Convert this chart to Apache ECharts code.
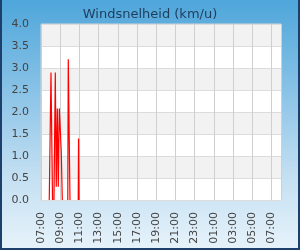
<!DOCTYPE html>
<html>
<head>
<meta charset="utf-8">
<script src="https://cdn.jsdelivr.net/npm/echarts@6/dist/echarts.min.js"></script>
<style>
  html, body { margin: 0; padding: 0; }
  #wrap {
    width: 300px; height: 250px; box-sizing: border-box;
    border-left: 2px solid #1c3f6b; border-right: 2px solid #1c3f6b; border-bottom: 2px solid #1c3f6b;
    background: linear-gradient(to bottom, #4ea6da 0%, #86c1e6 35%, #c2dff2 70%, #e6f2fa 100%);
  }
  #main { width: 296px; height: 248px; }
</style>
</head>
<body>
<div id="wrap"><div id="main"></div></div>
<script type="text/javascript">
  // uren na 07:00; null = geen meting (lijn onderbroken)
  var hours = [0.86, 1.04, 1.20, null, 1.35, 1.49, 1.59, 1.70, 1.80, 1.91, 2.11, 2.22, null, 2.79, 2.84, 3.02, null, 3.88, 3.91, 3.96];
  var speed = [0.0, 2.9, 0.0, null, 0.0, 2.9, 0.3, 2.08, 0.3, 2.08, 1.1, 0.0, null, 0.0, 3.2, 0.0, null, 0.0, 1.4, 0.0];
  var startHour = 7;

  var data = [];
  for (var i = 0; i < hours.length; i++) {
    if (hours[i] === null) data.push([ (hours[i - 1] + hours[i + 1]) / 2, null ]);
    else data.push([hours[i], speed[i]]);
  }

  var myChart = echarts.init(document.getElementById('main'));
  var option = {
    animation: false,
    title: {
      text: 'Windsnelheid (km/u)',
      left: 'center',
      top: 3,
      textStyle: { fontFamily: 'DejaVu Sans', fontSize: 13, fontWeight: 'normal', color: '#1d3d5e' }
    },
    grid: {
      left: 39, right: 17, top: 24, bottom: 48,
      show: true, borderColor: '#d4d4d4', borderWidth: 1
    },
    xAxis: {
      type: 'value',
      min: 0, max: 25, interval: 2,
      axisLine: { show: false },
      axisTick: { show: false },
      splitLine: { show: true, lineStyle: { color: '#cfcfcf', width: 1 } },
      axisLabel: {
        rotate: 90, margin: 12, showMaxLabel: false,
        fontFamily: 'DejaVu Sans', fontSize: 11, color: '#444',
        formatter: function (v) {
          var h = (startHour + v) % 24;
          return (h < 10 ? '0' : '') + h + ':00';
        }
      }
    },
    yAxis: {
      type: 'value',
      min: 0, max: 4, interval: 0.5,
      axisLine: { show: false },
      axisTick: { show: false },
      splitLine: { show: true, lineStyle: { color: '#dcdcdc', width: 1 } },
      // eerste kleur = onderste band (0.0-0.5)
      splitArea: { show: true, areaStyle: { color: ['#ffffff', '#f2f2f2'] } },
      axisLabel: {
        margin: 12, fontFamily: 'DejaVu Sans', fontSize: 11, color: '#444',
        formatter: function (v) { return v.toFixed(1); }
      }
    },
    series: [{
      type: 'line',
      data: data,
      showSymbol: false,
      connectNulls: false,
      lineStyle: { color: '#ff0000', width: 1.2 }
    }]
  };
  myChart.setOption(option);
</script>
</body>
</html>
